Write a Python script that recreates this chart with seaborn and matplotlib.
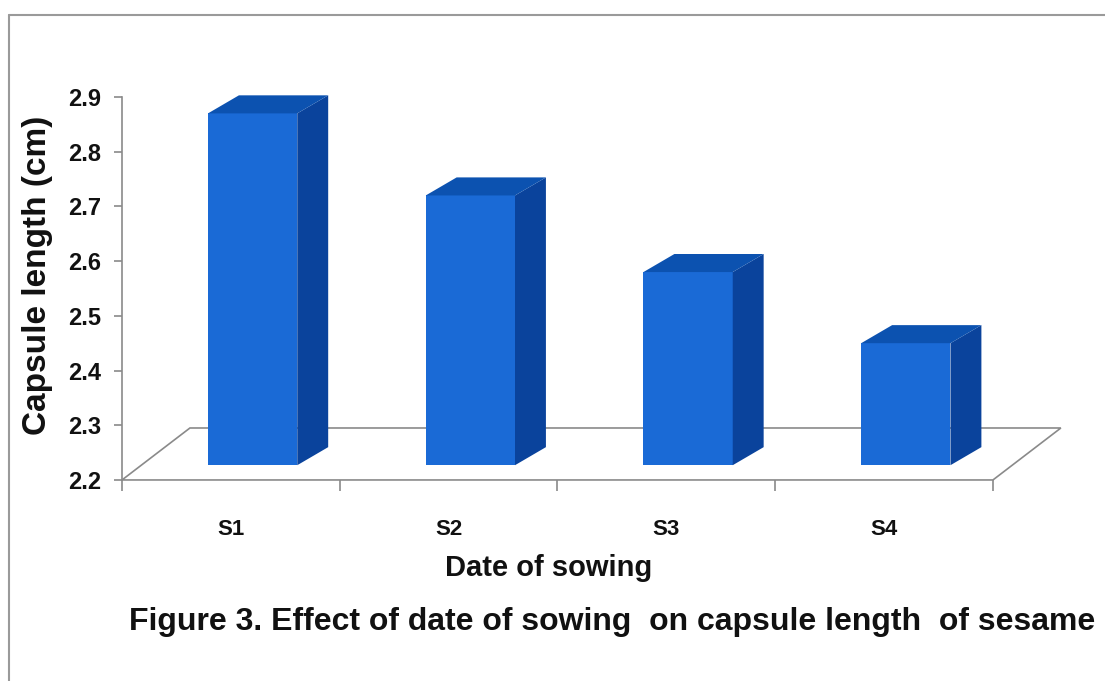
import matplotlib
matplotlib.use("Agg")
import matplotlib.pyplot as plt
from matplotlib.patches import Polygon
from matplotlib.lines import Line2D
import seaborn as sns
import pandas as pd

# ---- data ----
categories = ["S1", "S2", "S3", "S4"]
capsule_length = [2.87, 2.72, 2.58, 2.45]
y_ticks = [2.2, 2.3, 2.4, 2.5, 2.6, 2.7, 2.8, 2.9]
x_label = "Date of sowing"
y_label = "Capsule length (cm)"
title = "Figure 3. Effect of date of sowing  on capsule length  of sesame"

sns.set_theme(style="white")
plt.rcParams["font.family"] = ["Liberation Sans", "DejaVu Sans"]
plt.rcParams["text.color"] = "#111111"
plt.rcParams["axes.labelcolor"] = "#111111"
plt.rcParams["xtick.labelcolor"] = "#111111"
plt.rcParams["ytick.labelcolor"] = "#111111"

FRONT = "#1a6ad6"
SIDE = "#0a439c"
TOP = "#0c52b0"
GRID = "#8a8a8a"

df = pd.DataFrame({"cat": categories, "val": capsule_length})

fig = plt.figure(figsize=(11.05, 6.81), dpi=100)
ax = fig.add_axes([0.1104, 0.2952, 0.867, 0.5624])

sns.barplot(data=df, x="cat", y="val", width=0.41, color=FRONT,
            saturation=1, ax=ax, zorder=3)

ymin, ymax = 2.2, 2.9
ax.set_ylim(ymin, ymax)
ax.set_xlim(-0.5, 3.9)

# depth parameters (data units)
BAR_SHIFT = 0.10
BASE = 2.227
DX, DY = 0.142, 0.033
FDX, FDY = 0.312, 0.095

# floor
floor = Polygon([(-0.5, ymin), (3.5, ymin), (3.5 + FDX, ymin + FDY), (-0.5 + FDX, ymin + FDY)],
                closed=True, facecolor="white", edgecolor=GRID, lw=1.2, zorder=1, clip_on=False)
ax.add_patch(floor)

for p, v in zip(ax.patches[:len(capsule_length)], capsule_length):
    p.set_x(p.get_x() + BAR_SHIFT)
    p.set_y(BASE)
    p.set_height(v - BASE)
    p.set_edgecolor("none")
    p.set_clip_on(False)
    x0 = p.get_x()
    x1 = x0 + p.get_width()
    side = Polygon([(x1, BASE), (x1, v), (x1 + DX, v + DY), (x1 + DX, BASE + DY)],
                   closed=True, facecolor=SIDE, edgecolor="none", zorder=3, clip_on=False)
    top = Polygon([(x0, v), (x1, v), (x1 + DX, v + DY), (x0 + DX, v + DY)],
                  closed=True, facecolor=TOP, edgecolor="none", zorder=3, clip_on=False)
    ax.add_patch(side)
    ax.add_patch(top)

# spines
for s in ["top", "right", "bottom"]:
    ax.spines[s].set_visible(False)
ax.spines["left"].set_color(GRID)
ax.spines["left"].set_linewidth(1.2)

ax.set_yticks(y_ticks)
ax.set_yticklabels([f"{t:.1f}" for t in y_ticks], fontsize=17, fontweight="bold")
ax.tick_params(axis="y", direction="out", length=6, width=1.2, color=GRID, pad=9, left=True)

ax.set_xticks(range(len(categories)))
ax.set_xticklabels(categories, fontsize=16, fontweight="bold")
ax.set_xticks([i - 0.5 for i in range(len(categories) + 1)], minor=True)
ax.tick_params(axis="x", which="major", length=0, pad=28, bottom=False)
ax.tick_params(axis="x", which="minor", direction="out", length=8, width=1.2, color=GRID, bottom=True)

ax.set_xlabel(x_label, fontsize=21, fontweight="bold")
ax.xaxis.label.set_va("center")
ax.xaxis.set_label_coords(0.445, -0.23)
ax.set_ylabel(y_label, fontsize=24, fontweight="bold")
ax.yaxis.label.set_va("center")
ax.yaxis.set_label_coords(-0.0877, 0.535)

fig.text(612 / 1105, 1 - 622 / 681, title, ha="center", va="center",
         fontsize=23, fontweight="bold", color="#111111")

# outer frame lines
fig.add_artist(Line2D([9 / 1105, 1.0], [1 - 15 / 681, 1 - 15 / 681], color="#9a9a9a", lw=1.5))
fig.add_artist(Line2D([9 / 1105, 9 / 1105], [0.0, 1 - 15 / 681], color="#9a9a9a", lw=1.5))

fig.savefig("out.png", dpi=100)
